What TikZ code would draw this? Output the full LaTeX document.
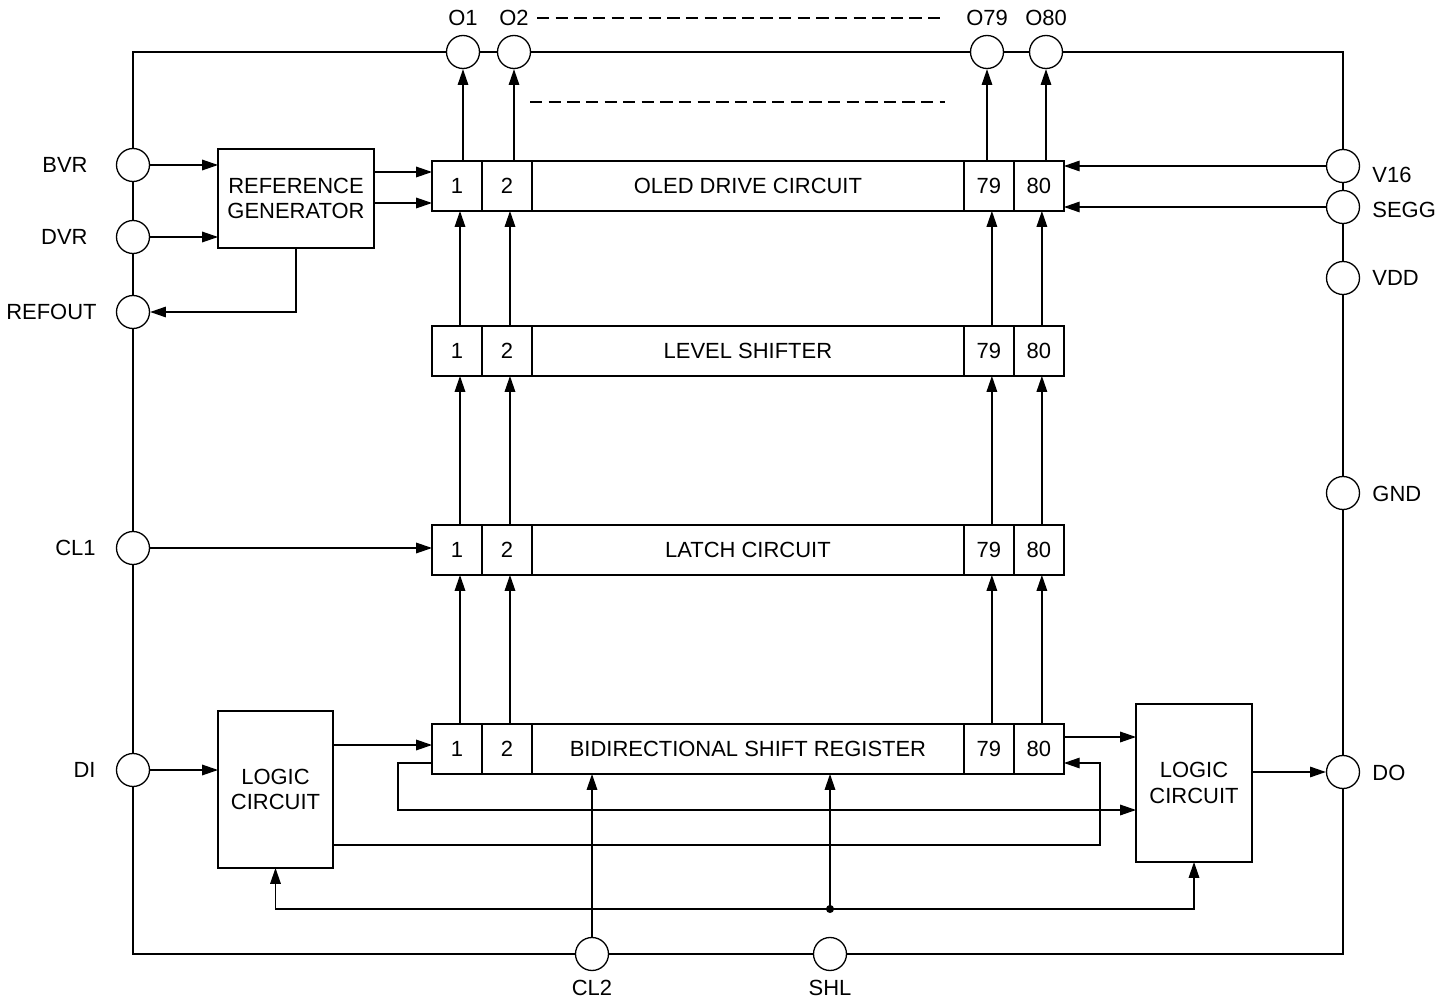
\documentclass[tikz,border=0pt]{standalone}
\usepackage{fontspec}
\setmainfont{Liberation Sans}
\usetikzlibrary{arrows.meta,positioning}

\tikzset{
  padc/.style={draw, circle, minimum size=0.66cm, inner sep=0pt},
  cellbox/.style={draw, minimum width=1cm, minimum height=1cm, inner sep=0pt, outer sep=0pt},
  blockbox/.style={draw, align=center, inner sep=0pt, outer sep=0pt},
  lbl/.style={inner sep=1pt},
}

\begin{document}
\begin{tikzpicture}[x=0.02cm, y=-0.02cm, line width=0.75pt,
  >={Triangle[length=9pt,width=6pt]}, font=\fontsize{12.5}{14.7}\selectfont]
  \useasboundingbox (0,0) rectangle (1451,1000);
  % ------- the four rows of 80 cells -------
  \foreach \r/\yy/\txt in {drv/186/OLED DRIVE CIRCUIT, lvl/351/LEVEL SHIFTER,
                          lat/550/LATCH CIRCUIT, sr/749/BIDIRECTIONAL SHIFT REGISTER} {
    \node[cellbox, anchor=west] (\r1) at (432,\yy) {1};
    \node[cellbox, right=0pt of \r1] (\r2) {2};
    \node[cellbox, minimum width=8.64cm, right=0pt of \r2] (\r-mid) {\txt};
    \node[cellbox, right=0pt of \r-mid] (\r79) {79};
    \node[cellbox, right=0pt of \r79] (\r80) {80};
  }
  \foreach \a/\b in {lvl/drv, lat/lvl, sr/lat} {
    \foreach \c in {1,2,79,80} {
      \draw[->] ([xshift=0.06cm]\a\c.north) -- ([xshift=0.06cm]\b\c.south);
    }
  }
  % ------- pads -------
  \foreach \n/\x/\c/\txt in {o1/463/1/O1, o2/514/2/O2, o79/987/79/O79, o80/1046/80/O80} {
    \node[padc] (\n) at (\x,52) {};
    \node[lbl] (\n-t) at (\x,18) {\txt};
    \draw[->] (drv\c.north -| \n) -- (\n.south);
  }
  \foreach \n/\y/\tx/\txt in {bvr/165/90/BVR, dvr/237/90/DVR, refout/312/99/REFOUT,
                             cl1/548/98/CL1, di/770/98/DI} {
    \node[padc] (\n) at (133,\y) {};
    \node[lbl, anchor=east] (\n-t) at (\tx,\y) {\txt};
  }
  \foreach \n/\y/\ty/\txt in {v16/166/175/V16, segg/207/210/SEGG, vdd/278/278/VDD,
                             gnd/493/494/GND, do/772/773/DO} {
    \node[padc] (\n) at (1343,\y) {};
    \node[lbl, anchor=west] (\n-t) at (1370,\ty) {\txt};
  }
  \foreach \n/\x/\txt in {cl2/592/CL2, shl/830/SHL} {
    \node[padc] (\n) at (\x,954) {};
    \node[lbl] (\n-t) at (\x,988) {\txt};
  }
  % frame through the pads
  \draw (o1.west) -| (bvr.north);
  \draw (o1) -- (o2) -- (o79) -- (o80);
  \draw (o80.east) -| (v16.north);
  \draw (v16) -- (segg) -- (vdd) -- (gnd) -- (do);
  \draw (do.south) |- (shl.east);
  \draw (shl) -- (cl2);
  \draw (cl2.west) -| (di.south);
  \draw (di) -- (cl1) -- (refout) -- (dvr) -- (bvr);
  \draw[dash pattern=on 7pt off 3.6pt] (537,18) -- (945,18);
  \draw[dash pattern=on 7pt off 3.6pt] (530,102) -- (945,102);
  % ------- blocks -------
  \node[blockbox, minimum width=3.12cm, minimum height=1.98cm] (refgen) at (296,198.5)
    {REFERENCE\\GENERATOR};
  \node[blockbox, minimum width=2.3cm, minimum height=3.14cm] (llogic) at (275.5,789.5)
    {LOGIC\\CIRCUIT};
  \node[blockbox, minimum width=2.32cm, minimum height=3.16cm] (rlogic) at (1194,783)
    {LOGIC\\CIRCUIT};
  % ------- connections -------
  \draw[->] (bvr.east) -- (bvr.east -| refgen.west);
  \draw[->] (dvr.east) -- (dvr.east -| refgen.west);
  \draw[->] (refgen.east |- 0,172) -- (drv1.west |- 0,172);
  \draw[->] (refgen.east |- 0,203) -- (drv1.west |- 0,203);
  \draw[->] (refgen.south) |- (refout.east);
  \draw[->] (v16.west) -- (v16.west -| drv80.east);
  \draw[->] (segg.west) -- (segg.west -| drv80.east);
  \draw[->] (cl1.east) -- (cl1.east -| lat1.west);
  \draw[->] (di.east) -- (di.east -| llogic.west);
  \draw[->] (llogic.east |- 0,745) -- (sr1.west |- 0,745);
  \draw[->] (sr1.west |- 0,763) -- (398,763) |- (rlogic.west |- 0,810);
  \draw[->] (llogic.east |- 0,845) -| (1100,763) -- (sr80.east |- 0,763);
  \draw[->] (sr80.east |- 0,737) -- (rlogic.west |- 0,737);
  \draw[->] (rlogic.east |- do) -- (do.west);
  \draw[->] (cl2.north) -- (cl2.north |- sr-mid.south);
  % SHL bus
  \coordinate (bus) at (shl |- 0,909);
  \draw[->] (bus) -- (bus |- sr-mid.south);
  \draw[->] (bus) -| (llogic.south);
  \draw[->] (bus) -| (rlogic.south);
  \fill (bus) circle (2.3pt);
\end{tikzpicture}
\end{document}
